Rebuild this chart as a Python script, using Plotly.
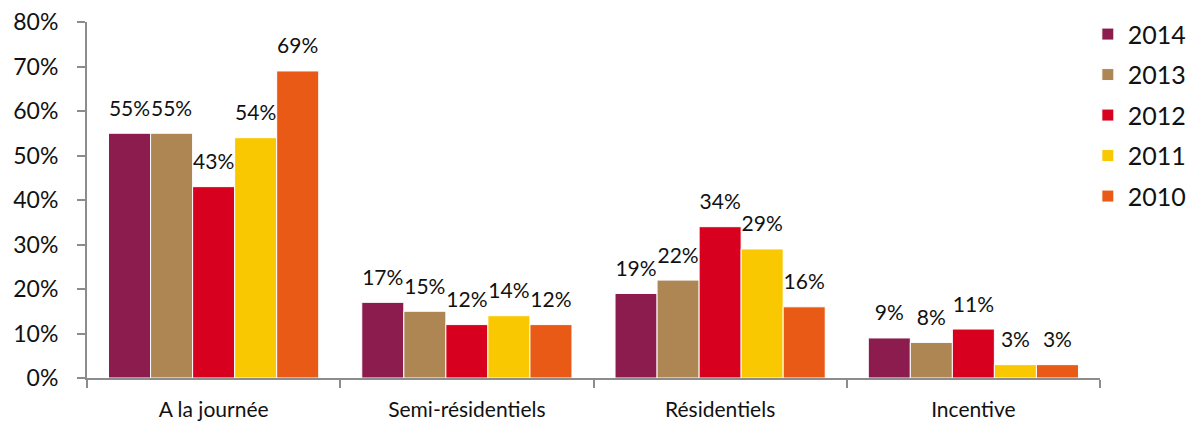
import plotly.graph_objects as go

categories = ["A la journée", "Semi-résidentiels", "Résidentiels", "Incentive"]
years = ["2014", "2013", "2012", "2011", "2010"]
values_2014 = [55, 17, 19, 9]
values_2013 = [55, 15, 22, 8]
values_2012 = [43, 12, 34, 11]
values_2011 = [54, 14, 29, 3]
values_2010 = [69, 12, 16, 3]
series = [values_2014, values_2013, values_2012, values_2011, values_2010]
colors = ["#8B1C4D", "#AD8653", "#D7001E", "#F9C800", "#E85A16"]

FONT = "Lato"
GAP = 0.17

fig = go.Figure()
for year, vals, col in zip(years, series, colors):
    fig.add_trace(go.Bar(
        x=categories, y=vals, name=year, legendgroup=year,
        offsetgroup=year, alignmentgroup="g",
        marker=dict(color=col, line=dict(color="white", width=1)),
        hoverinfo="x+y+name",
    ))
# value labels: grouped text markers sitting on top of each bar
for year, vals in zip(years, series):
    fig.add_trace(go.Scatter(
        x=categories, y=vals, mode="markers+text",
        offsetgroup=year, alignmentgroup="g",
        marker=dict(size=18, color="rgba(0,0,0,0)"),
        text=[f"{v}%" for v in vals], textposition="top center",
        textfont=dict(family=FONT, size=21, color="#111111"),
        showlegend=False, hoverinfo="skip", cliponaxis=False,
    ))

fig.update_layout(
    width=1199, height=426,
    margin=dict(l=87, r=99, t=22, b=48, autoexpand=False),
    paper_bgcolor="white", plot_bgcolor="white",
    barmode="group", bargap=GAP, bargroupgap=0,
    scattermode="group", scattergap=GAP,
    font=dict(family=FONT, color="#111111"),
    showlegend=True,
    legend=dict(x=0.988, xanchor="left", y=1.03, yanchor="top",
                font=dict(family=FONT, size=25, color="#111111"),
                itemwidth=30, traceorder="grouped", tracegroupgap=5,
                bgcolor="rgba(0,0,0,0)"),
)
fig.update_xaxes(
    showline=True, linecolor="#8C8C8C", linewidth=2,
    ticks="outside", tickson="boundaries", ticklen=8, tickcolor="#8C8C8C", tickwidth=2,
    tickfont=dict(family=FONT, size=21, color="#111111"),
    ticklabelstandoff=12, automargin=False,
    showgrid=False,
)
fig.update_yaxes(
    range=[0, 80], dtick=10, ticksuffix="%",
    showline=True, linecolor="#8C8C8C", linewidth=2,
    ticks="outside", ticklen=8, tickcolor="#8C8C8C", tickwidth=2,
    tickfont=dict(family=FONT, size=23, color="#111111"),
    ticklabelstandoff=14, automargin=False,
    showgrid=False, zeroline=False,
)

fig.write_html("out.html")
